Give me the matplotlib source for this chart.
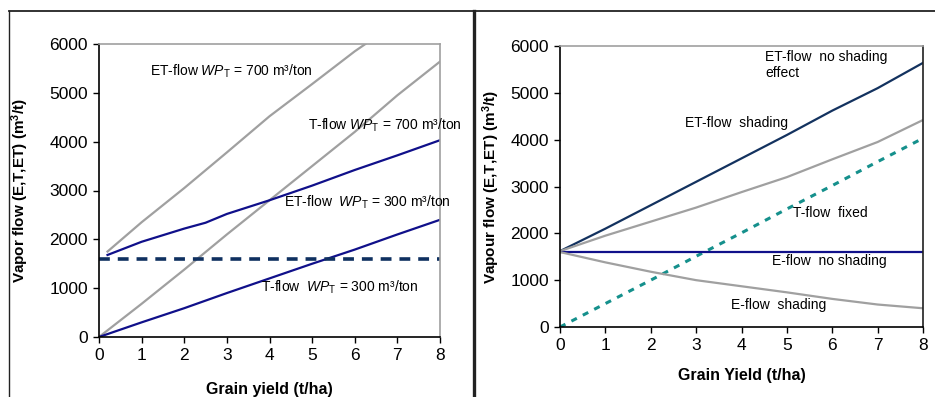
import matplotlib.pyplot as plt
from matplotlib.lines import Line2D

plt.rcParams['font.family'] = ['Liberation Sans', 'DejaVu Sans']
plt.rcParams['mathtext.fontset'] = 'custom'
plt.rcParams['mathtext.rm'] = 'Liberation Sans'
plt.rcParams['mathtext.it'] = 'Liberation Sans:italic'
plt.rcParams['mathtext.bf'] = 'Liberation Sans:bold'

# left panel data (grain yield t/ha -> vapour flow m3/t)
et700_x = [0.2, 1, 2, 3, 4, 5, 6, 6.3]
et700_y = [1750, 2350, 3050, 3780, 4520, 5180, 5850, 6030]
t700_x = [0, 1, 1.6, 2, 3, 4, 5, 6, 7, 8]
t700_y = [0, 680, 1100, 1380, 2100, 2800, 3500, 4200, 4950, 5640]
et300_x = [0.2, 1, 2, 2.5, 3, 4, 5, 6, 7, 8]
et300_y = [1680, 1950, 2220, 2340, 2520, 2800, 3100, 3420, 3720, 4030]
t300_x = [0, 1, 2, 3, 4, 5, 6, 7, 8]
t300_y = [0, 300, 590, 900, 1200, 1500, 1790, 2100, 2400]
e_fixed = 1600

# right panel data
yield_r = [0, 1, 2, 3, 4, 5, 6, 7, 8]
et_noshade = [1620, 2100, 2600, 3100, 3600, 4100, 4620, 5100, 5640]
et_shade = [1620, 1950, 2250, 2550, 2880, 3200, 3580, 3950, 4420]
t_fixed = [0, 500, 1000, 1510, 2010, 2520, 3020, 3530, 4030]
e_noshade = [1600] * 9
e_shade = [1600, 1380, 1180, 1000, 870, 740, 600, 480, 400]

gray = '#a0a0a0'
blue = '#10108a'
navy = '#13325f'
dash_navy = '#0f3060'
teal = '#15908c'

fig = plt.figure(figsize=(9.35, 3.97), dpi=100)
axL = fig.add_axes([99/935, 1-337/397, 341/935, 293/397])
axR = fig.add_axes([560/935, 1-327/397, 363/935, 281/397])

# left chart
axL.plot(et700_x, et700_y, color=gray, lw=1.6)
axL.plot(t700_x, t700_y, color=gray, lw=1.6)
axL.plot(et300_x, et300_y, color=blue, lw=1.6)
axL.plot(t300_x, t300_y, color=blue, lw=1.6)
axL.axhline(e_fixed, color=dash_navy, lw=2.6, ls=(0, (3, 2.2)))

tfs = 10
axL.text(1.2, 5450, r'ET-flow $\it{WP}_{\rm T}$ = 700 m³/ton', fontsize=tfs, va='center')
axL.text(4.9, 4335, r'T-flow $\it{WP}_{\rm T}$ = 700 m³/ton', fontsize=tfs, va='center')
axL.text(4.35, 2760, r'ET-flow  $\it{WP}_{\rm T}$ = 300 m³/ton', fontsize=tfs, va='center')
axL.text(3.8, 1010, r'T-flow  $\it{WP}_{\rm T}$ = 300 m³/ton', fontsize=tfs, va='center')

axL.set_ylabel(r'Vapor flow (E,T,ET) (m$^\mathbf{3}$/t)', fontsize=11, fontweight='bold')
axL.set_xlabel('Grain yield (t/ha)', fontsize=11.5, fontweight='bold')

# right chart
axR.plot(yield_r, et_noshade, color=navy, lw=1.6)
axR.plot(yield_r, et_shade, color=gray, lw=1.6)
axR.plot(yield_r, t_fixed, color=teal, lw=2.2, ls=(0, (2, 2.2)))
axR.plot(yield_r, e_noshade, color=blue, lw=1.6)
axR.plot(yield_r, e_shade, color=gray, lw=1.6)

axR.text(4.52, 5600, 'ET-flow  no shading\neffect', fontsize=tfs, va='center', linespacing=1.15)
axR.text(2.75, 4360, 'ET-flow  shading', fontsize=tfs, va='center')
axR.text(5.13, 2430, 'T-flow  fixed', fontsize=tfs, va='center')
axR.text(4.67, 1410, 'E-flow  no shading', fontsize=tfs, va='center')
axR.text(3.77, 470, 'E-flow  shading', fontsize=tfs, va='center')

axR.set_ylabel(r'Vapour flow (E,T,ET) (m$^\mathbf{3}$/t)', fontsize=11, fontweight='bold')
axR.set_xlabel('Grain Yield (t/ha)', fontsize=11.5, fontweight='bold')

for ax in (axL, axR):
    ax.set_xlim(0, 8)
    ax.set_ylim(0, 6000)
    ax.set_xticks(range(0, 9))
    ax.set_yticks(range(0, 6001, 1000))
    ax.tick_params(labelsize=12.5, length=4, width=1, direction='out', pad=4)
    ax.spines['left'].set_color('black')
    ax.spines['bottom'].set_color('black')
    ax.spines['top'].set_color(gray)
    ax.spines['right'].set_color(gray)
    for s in ax.spines.values():
        s.set_linewidth(1.2)
axR.spines['right'].set_color('#202020')

axL.yaxis.set_label_coords(-0.2, 0.5)
axR.yaxis.set_label_coords(-0.16, 0.5)
axL.xaxis.set_label_coords(0.5, -0.155)
axR.xaxis.set_label_coords(0.5, -0.145)

# panel frames
top = 1 - 11/397
fig.add_artist(Line2D([8.5/935, 1], [top, top], color='#222222', lw=1.3, transform=fig.transFigure))
fig.add_artist(Line2D([8.5/935, 8.5/935], [0, top], color='#222222', lw=1.0, transform=fig.transFigure))
fig.add_artist(Line2D([474.5/935, 474.5/935], [0, top], color='#222222', lw=2.4, transform=fig.transFigure))

fig.savefig('out.png', dpi=100)
